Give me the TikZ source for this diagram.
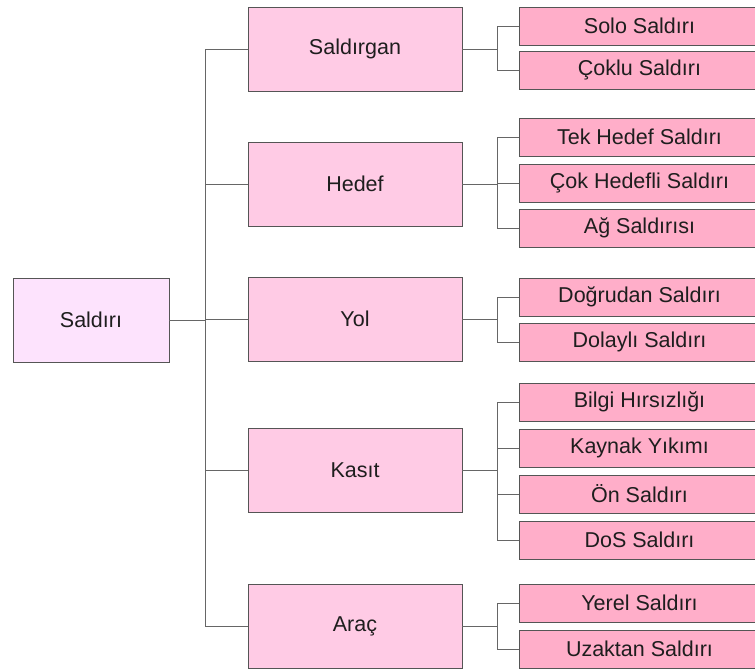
\documentclass[tikz,border=0pt]{standalone}
\usepackage{fontspec}
\setmainfont{Liberation Sans}
\definecolor{rootfill}{HTML}{FDE3FD}
\definecolor{midfill}{HTML}{FFCBE5}
\definecolor{leaffill}{HTML}{FFAEC9}
\definecolor{edge}{HTML}{555555}
\definecolor{wire}{HTML}{666666}
\definecolor{txt}{HTML}{1E1E1E}
\tikzset{
  box/.style={draw=edge, line width=1pt, rectangle, inner sep=0pt, outer sep=0pt,
    anchor=north west, text=txt, font=\fontsize{21.5}{25}\selectfont},
  rootbox/.style={box, fill=rootfill, minimum width=156pt, minimum height=84pt},
  midbox/.style={box, fill=midfill, minimum width=214pt, minimum height=84pt},
  leafbox/.style={box, fill=leaffill, minimum width=241pt, minimum height=38pt},
  wirel/.style={draw=wire, line width=1pt}
}
\begin{document}
\begin{tikzpicture}[x=1pt,y=-1pt]
\clip (0,0) rectangle (755,670);
\fill[white] (0,0) rectangle (755,670);
\coordinate (trk) at (205,0);
\coordinate (sub) at (497.5,0);
% root
\node[rootbox] (root) at (13,278) {Saldırı};
% middle
\node[midbox] (sal) at (248,7) {Saldırgan};
\node[midbox] (hed) at (248,142) {Hedef};
\node[midbox] (yol) at (248,277) {Yol};
\node[midbox] (kas) at (248,428) {Kasıt};
\node[midbox] (arc) at (248,584) {Araç};
% leaves
\node[leafbox] (l1) at (519,7) {Solo Saldırı};
\node[leafbox] (l2) at (519,51) {Çoklu Saldırı};
\node[leafbox] (l3) at (519,118) {Tek Hedef Saldırı};
\node[leafbox] (l4) at (519,164) {Çok Hedefli Saldırı};
\node[leafbox] (l5) at (519,209) {Ağ Saldırısı};
\node[leafbox] (l6) at (519,278) {Doğrudan Saldırı};
\node[leafbox] (l7) at (519,323) {Dolaylı Saldırı};
\node[leafbox] (l8) at (519,383) {Bilgi Hırsızlığı};
\node[leafbox] (l9) at (519,429) {Kaynak Yıkımı};
\node[leafbox] (l10) at (519,475) {Ön Saldırı};
\node[leafbox] (l11) at (519,521) {DoS Saldırı};
\node[leafbox] (l12) at (519,584) {Yerel Saldırı};
\node[leafbox] (l13) at (519,630) {Uzaktan Saldırı};
% trunk connectors
\draw[wirel] (sal.west) -- (sal.west -| trk) |- (arc.west);
\draw[wirel] (root.east) -- (root.east -| trk);
\draw[wirel] (hed.west) -- (hed.west -| trk);
\draw[wirel] (yol.west) -- (yol.west -| trk);
\draw[wirel] (kas.west) -- (kas.west -| trk);
% sub connectors
\draw[wirel] (sal.east) -- (sal.east -| sub);
\draw[wirel] (l1.west) -- (l1.west -| sub) |- (l2.west);
\draw[wirel] (hed.east) -- (hed.east -| sub);
\draw[wirel] (l3.west) -- (l3.west -| sub) |- (l5.west);
\draw[wirel] (l4.west) -- (l4.west -| sub);
\draw[wirel] (yol.east) -- (yol.east -| sub);
\draw[wirel] (l6.west) -- (l6.west -| sub) |- (l7.west);
\draw[wirel] (kas.east) -- (kas.east -| sub);
\draw[wirel] (l8.west) -- (l8.west -| sub) |- (l11.west);
\draw[wirel] (l9.west) -- (l9.west -| sub);
\draw[wirel] (l10.west) -- (l10.west -| sub);
\draw[wirel] (arc.east) -- (arc.east -| sub);
\draw[wirel] (l12.west) -- (l12.west -| sub) |- (l13.west);
\end{tikzpicture}
\end{document}
